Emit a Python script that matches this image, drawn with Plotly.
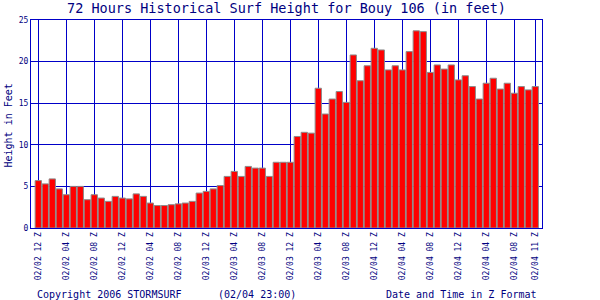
import plotly.graph_objects as go

hours = list(range(72))
heights = [
    5.7, 5.3, 5.9, 4.7, 4.0, 5.0, 5.0, 3.4, 4.0, 3.6, 3.2, 3.8,
    3.6, 3.5, 4.1, 3.8, 3.0, 2.7, 2.7, 2.8, 2.9, 3.0, 3.2, 4.2,
    4.4, 4.7, 5.1, 6.2, 6.8, 6.2, 7.4, 7.2, 7.2, 6.2, 7.9, 7.9,
    7.9, 11.0, 11.5, 11.4, 16.8, 13.7, 15.5, 16.4, 15.1, 20.8, 17.7, 19.5,
    21.6, 21.4, 19.0, 19.5, 19.0, 21.2, 23.7, 23.6, 18.7, 19.6, 19.1, 19.6,
    17.8, 18.3, 17.0, 15.5, 17.4, 18.0, 16.7, 17.4, 16.2, 17.0, 16.6, 17.0,
]
tick_hours = [0, 4, 8, 12, 16, 20, 24, 28, 32, 36, 40, 44, 48, 52, 56, 60, 64, 68, 71]
tick_labels = [
    "02/02 12 Z", "02/02 04 Z", "02/02 08 Z", "02/02 12 Z", "02/02 04 Z", "02/02 08 Z",
    "02/03 12 Z", "02/03 04 Z", "02/03 08 Z", "02/03 12 Z", "02/03 04 Z", "02/03 08 Z",
    "02/04 12 Z", "02/04 04 Z", "02/04 08 Z", "02/04 12 Z", "02/04 04 Z", "02/04 08 Z",
    "02/04 11 Z",
]
y_ticks = [0, 5, 10, 15, 20, 25]

TEXT = "#000080"
LINE = "#0000c8"
MONO = "DejaVu Sans Mono"

fig = go.Figure()
fig.add_trace(go.Bar(
    x=hours, y=heights,
    marker=dict(color="#ff0000", line=dict(color="#8c8c8c", width=1)),
    hoverinfo="skip",
))

fig.update_layout(
    width=600, height=300,
    margin=dict(l=31, r=58, t=20, b=72),
    paper_bgcolor="white", plot_bgcolor="white",
    bargap=0.1,
    showlegend=False,
    font=dict(family=MONO, color=TEXT),
    title=dict(
        text="72 Hours Historical Surf Height for Bouy 106 (in feet)",
        font=dict(family=MONO, size=13.5, color=TEXT),
        xref="paper", x=0.5, xanchor="center",
        yref="container", y=1 - 8.5 / 300, yanchor="middle",
    ),
)
fig.update_xaxes(
    range=[-1.04, 71.96],
    tickmode="array", tickvals=tick_hours, ticktext=tick_labels,
    tickangle=-90, tickfont=dict(family=MONO, size=8, color=TEXT),
    showgrid=True, gridcolor=LINE, gridwidth=1,
    showline=True, linecolor=LINE, linewidth=1, mirror=True,
    ticks="", zeroline=False,
)
fig.update_yaxes(
    range=[0, 25],
    tickmode="array", tickvals=y_ticks,
    tickfont=dict(family=MONO, size=8, color=TEXT),
    showgrid=True, gridcolor=LINE, gridwidth=1,
    showline=True, linecolor=LINE, linewidth=1, mirror=True,
    ticks="", zeroline=False,
)

def px_x(p):
    return (p - 31) / 511

def px_y(p):
    return (228 - p) / 208

fig.add_annotation(text="Height in Feet", textangle=-90,
                   xref="paper", yref="paper", x=px_x(7.5), y=px_y(126),
                   xanchor="center", yanchor="middle", showarrow=False,
                   font=dict(family=MONO, size=10, color=TEXT))
fig.add_annotation(text="Copyright 2006 STORMSURF",
                   xref="paper", yref="paper", x=px_x(35), y=px_y(294),
                   xanchor="left", yanchor="middle", showarrow=False,
                   font=dict(family=MONO, size=10, color=TEXT))
fig.add_annotation(text="(02/04 23:00)",
                   xref="paper", yref="paper", x=px_x(216), y=px_y(294),
                   xanchor="left", yanchor="middle", showarrow=False,
                   font=dict(family=MONO, size=10, color=TEXT))
fig.add_annotation(text="Date and Time in Z Format",
                   xref="paper", yref="paper", x=px_x(539), y=px_y(294),
                   xanchor="right", yanchor="middle", showarrow=False,
                   font=dict(family=MONO, size=10, color=TEXT))

fig.write_html("out.html")
